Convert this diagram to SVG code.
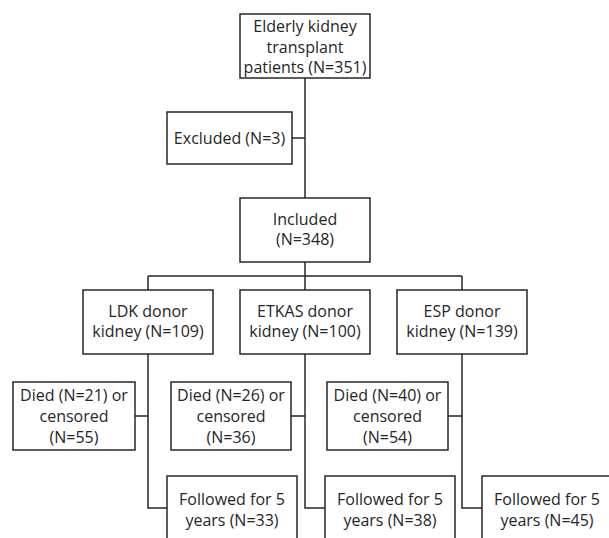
<svg xmlns="http://www.w3.org/2000/svg" width="609" height="538" viewBox="0 0 609 538">
<style>
.box{fill:#fff;stroke:#262626;stroke-width:1.5}
.ln{fill:none;stroke:#262626;stroke-width:1.5}
text{font-family:"Open Sans","Liberation Sans",sans-serif;font-size:16px;fill:#262626;text-anchor:middle}
</style>
<rect width="609" height="538" fill="#fff"/>
<g id="connectors">
<path class="ln" d="M305 78V198M292 138H305"/>
<path class="ln" d="M305 262V276M148 276H462M148 276V290M305 276V290M462 276V290"/>
<path class="ln" d="M148 354V508H167M135 416H148"/>
<path class="ln" d="M305 354V508H325M291 416H305"/>
<path class="ln" d="M462 354V508H482M448 416H462"/>
</g>
<g id="top"><rect class="box" x="240" y="14" width="130" height="64"/>
<text x="305" y="32">Elderly kidney</text><text x="305" y="52.5">transplant</text><text x="305" y="73">patients (N=351)</text></g>
<g id="excluded"><rect class="box" x="167" y="112" width="125" height="52"/>
<text x="229.5" y="143.5">Excluded (N=3)</text></g>
<g id="included"><rect class="box" x="240" y="198" width="130" height="64"/>
<text x="305" y="224.5">Included</text><text x="305" y="245">(N=348)</text></g>
<g id="ldk"><rect class="box" x="83" y="290" width="130" height="64"/>
<text x="148" y="316.5">LDK donor</text><text x="148" y="337">kidney (N=109)</text></g>
<g id="etkas"><rect class="box" x="240" y="290" width="130" height="64"/>
<text x="305" y="316.5">ETKAS donor</text><text x="305" y="337">kidney (N=100)</text></g>
<g id="esp"><rect class="box" x="397" y="290" width="130" height="64"/>
<text x="462" y="316.5">ESP donor</text><text x="462" y="337">kidney (N=139)</text></g>
<g id="died-ldk"><rect class="box" x="13" y="382" width="122" height="68"/>
<text x="74" y="401">Died (N=21) or</text><text x="74" y="422">censored</text><text x="74" y="443">(N=55)</text></g>
<g id="died-etkas"><rect class="box" x="171" y="382" width="120" height="68"/>
<text x="231" y="401">Died (N=26) or</text><text x="231" y="422">censored</text><text x="231" y="443">(N=36)</text></g>
<g id="died-esp"><rect class="box" x="327" y="382" width="121" height="68"/>
<text x="387.5" y="401">Died (N=40) or</text><text x="387.5" y="422">censored</text><text x="387.5" y="443">(N=54)</text></g>
<g id="fol-ldk"><rect class="box" x="167" y="476" width="130" height="70"/>
<text x="232" y="505">Followed for 5</text><text x="232" y="526">years (N=33)</text></g>
<g id="fol-etkas"><rect class="box" x="325" y="476" width="130" height="70"/>
<text x="390" y="505">Followed for 5</text><text x="390" y="526">years (N=38)</text></g>
<g id="fol-esp"><rect class="box" x="482" y="476" width="130" height="70"/>
<text x="547" y="505">Followed for 5</text><text x="547" y="526">years (N=45)</text></g>
</svg>
